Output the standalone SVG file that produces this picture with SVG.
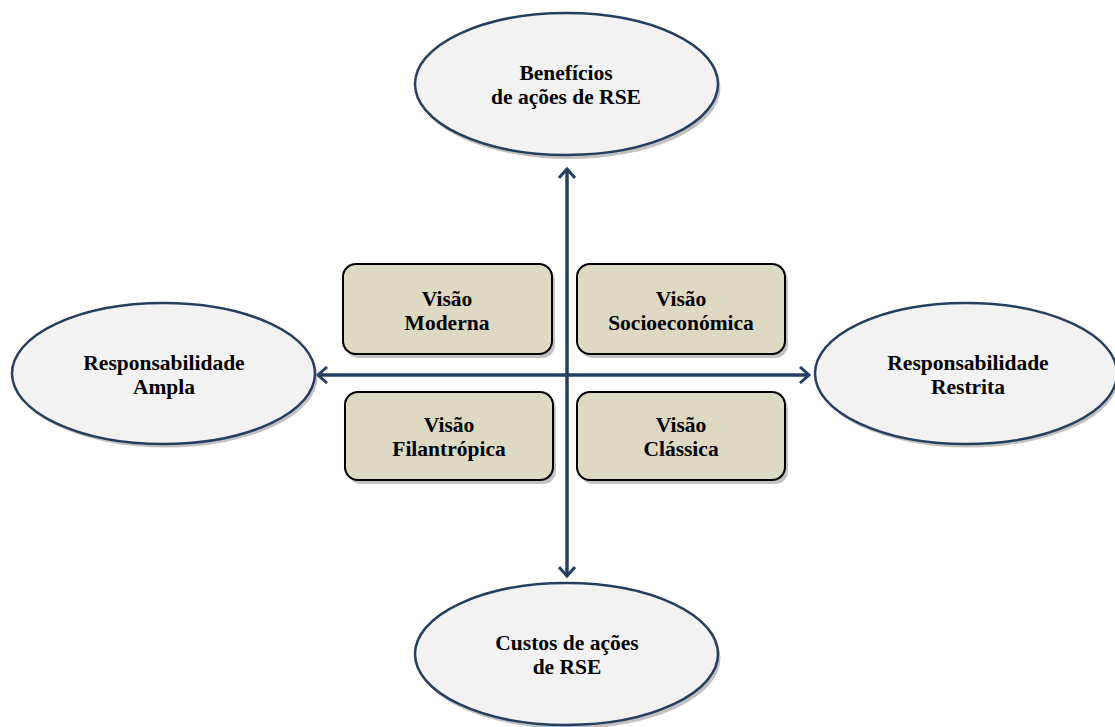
<svg xmlns="http://www.w3.org/2000/svg" width="1115" height="727" viewBox="0 0 1115 727">
<defs>
<style>
.ell{fill:#f2f2f2;stroke:#243f60;stroke-width:2.5}
.shd{fill:#9a9a9a;opacity:0.6}
.box{fill:#ddd9c3;stroke:#000;stroke-width:2}
.t{font-family:"Liberation Serif","DejaVu Serif","Times New Roman",serif;font-weight:bold;font-size:21.5px;fill:#000;text-anchor:middle}
.ax{stroke:#243f60;stroke-width:3.5;fill:none}
</style>
<marker id="ah" viewBox="0 0 12 18" refX="10" refY="9" markerWidth="12" markerHeight="18" markerUnits="userSpaceOnUse" orient="auto-start-reverse">
<path d="M1,1 L10,9 L1,17" fill="none" stroke="#243f60" stroke-width="3"/>
</marker>
</defs>
<rect width="1115" height="727" fill="#fff"/>
<g id="connectors">
<line class="ax" x1="567" y1="169" x2="567" y2="576" marker-start="url(#ah)" marker-end="url(#ah)"/>
<line class="ax" x1="318" y1="375" x2="809" y2="375" marker-start="url(#ah)" marker-end="url(#ah)"/>
</g>
<g id="n-beneficios">
<ellipse class="shd" cx="569" cy="88" rx="151.5" ry="71"/>
<ellipse class="ell" cx="566.5" cy="84" rx="151.5" ry="71"/>
<text class="t" x="566" y="80">Benefícios</text>
<text class="t" x="566" y="104">de ações de RSE</text>
</g>
<g id="n-ampla">
<ellipse class="shd" cx="166" cy="377" rx="151.5" ry="70.5"/>
<ellipse class="ell" cx="163.5" cy="373.5" rx="151.5" ry="70.5"/>
<text class="t" x="164" y="370">Responsabilidade</text>
<text class="t" x="164" y="394">Ampla</text>
</g>
<g id="n-restrita">
<ellipse class="shd" cx="968" cy="377" rx="151" ry="70.5"/>
<ellipse class="ell" cx="966" cy="373.5" rx="151" ry="70.5"/>
<text class="t" x="968" y="370">Responsabilidade</text>
<text class="t" x="968" y="394">Restrita</text>
</g>
<g id="n-custos">
<ellipse class="shd" cx="569" cy="658" rx="151.5" ry="71"/>
<ellipse class="ell" cx="566.5" cy="654" rx="151.5" ry="71"/>
<text class="t" x="567" y="650">Custos de ações</text>
<text class="t" x="567" y="674">de RSE</text>
</g>
<g id="n-moderna">
<rect class="shd" x="346" y="268" width="209" height="90" rx="13"/>
<rect class="box" x="343" y="264" width="209" height="90" rx="13"/>
<text class="t" x="447" y="306">Visão</text>
<text class="t" x="447" y="330">Moderna</text>
</g>
<g id="n-socio">
<rect class="shd" x="580" y="268" width="208" height="90" rx="13"/>
<rect class="box" x="577" y="264" width="208" height="90" rx="13"/>
<text class="t" x="681" y="306">Visão</text>
<text class="t" x="681" y="330">Socioeconómica</text>
</g>
<g id="n-filantropica">
<rect class="shd" x="348" y="396" width="208" height="88" rx="13"/>
<rect class="box" x="345" y="392" width="208" height="88" rx="13"/>
<text class="t" x="449" y="432">Visão</text>
<text class="t" x="449" y="456">Filantrópica</text>
</g>
<g id="n-classica">
<rect class="shd" x="580" y="396" width="208" height="88" rx="13"/>
<rect class="box" x="577" y="392" width="208" height="88" rx="13"/>
<text class="t" x="681" y="432">Visão</text>
<text class="t" x="681" y="456">Clássica</text>
</g>
</svg>
